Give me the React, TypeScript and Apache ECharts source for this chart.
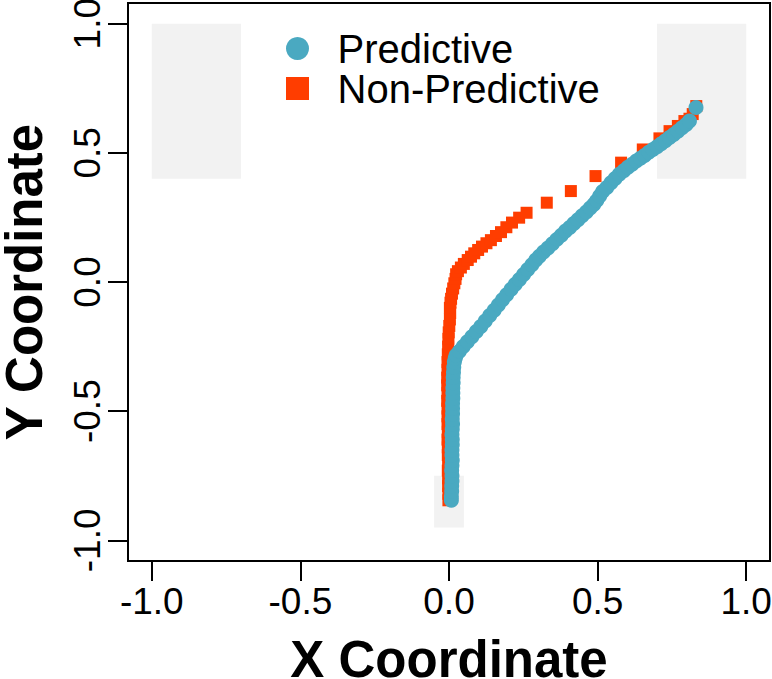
import React, { useEffect, useRef } from "react";
import * as echarts from "echarts";

const xTicks = [-1, -0.5, 0, 0.5, 1];
const yTicks = [-1, -0.5, 0, 0.5, 1];
const seriesNames = ["Predictive", "Non-Predictive"];

// Predictive (teal circles) from bottom to top
const predictive: [number, number][] = [
  [0.008, -0.845], [0.008, -0.83], [0.009, -0.81], [0.009, -0.79], [0.01, -0.77],
  [0.01, -0.75], [0.009, -0.73], [0.01, -0.71], [0.011, -0.69], [0.01, -0.67],
  [0.01, -0.65], [0.011, -0.63], [0.011, -0.61], [0.01, -0.59], [0.011, -0.57],
  [0.012, -0.55], [0.011, -0.53], [0.012, -0.51], [0.012, -0.49], [0.012, -0.47],
  [0.013, -0.45], [0.013, -0.43], [0.013, -0.41], [0.014, -0.39], [0.014, -0.37],
  [0.015, -0.35], [0.016, -0.33], [0.018, -0.31], [0.021, -0.295],
  [0.024, -0.284], [0.035, -0.268], [0.048, -0.25], [0.062, -0.231], [0.077, -0.212],
  [0.092, -0.192], [0.107, -0.172], [0.122, -0.151], [0.137, -0.13], [0.152, -0.109],
  [0.166, -0.089], [0.18, -0.069], [0.194, -0.049], [0.209, -0.028], [0.223, -0.009],
  [0.237, 0.01], [0.251, 0.029], [0.265, 0.048], [0.279, 0.067], [0.292, 0.085],
  [0.304, 0.1], [0.318, 0.116], [0.333, 0.132], [0.348, 0.148], [0.363, 0.165],
  [0.378, 0.181], [0.392, 0.197], [0.406, 0.211], [0.42, 0.226], [0.434, 0.241],
  [0.448, 0.256], [0.462, 0.271], [0.475, 0.286], [0.487, 0.3], [0.497, 0.315],
  [0.507, 0.333], [0.517, 0.35], [0.531, 0.366], [0.545, 0.384], [0.559, 0.401],
  [0.573, 0.417], [0.588, 0.431], [0.602, 0.444], [0.616, 0.456], [0.63, 0.468],
  [0.644, 0.479], [0.658, 0.49], [0.672, 0.502], [0.686, 0.513], [0.7, 0.524],
  [0.714, 0.535], [0.728, 0.547], [0.742, 0.559], [0.756, 0.571], [0.77, 0.584],
  [0.784, 0.597], [0.798, 0.61], [0.809, 0.623], [0.831, 0.675],
];

// Non-Predictive (red squares)
const nonPredictive: [number, number][] = [
  [-0.002, -0.845], [-0.002, -0.82], [-0.003, -0.79], [-0.003, -0.76], [-0.004, -0.73],
  [-0.003, -0.7], [-0.004, -0.67], [-0.004, -0.64], [-0.005, -0.61], [-0.004, -0.58],
  [-0.005, -0.55], [-0.005, -0.52], [-0.005, -0.49], [-0.006, -0.46], [-0.005, -0.43],
  [-0.006, -0.4], [-0.006, -0.37], [-0.005, -0.34], [-0.005, -0.31], [-0.004, -0.28],
  [-0.003, -0.25], [-0.002, -0.22], [-0.001, -0.195], [0.001, -0.17], [0.003, -0.145],
  [0.004, -0.12], [0.003, -0.1], [0.005, -0.08], [0.007, -0.065], [0.01, -0.045],
  [0.014, -0.025], [0.018, -0.005], [0.022, 0.012], [0.024, 0.03], [0.03, 0.042],
  [0.04, 0.056], [0.05, 0.07], [0.063, 0.085], [0.074, 0.098], [0.085, 0.111],
  [0.098, 0.124], [0.111, 0.137], [0.126, 0.15], [0.141, 0.162], [0.158, 0.178],
  [0.175, 0.193], [0.193, 0.212], [0.212, 0.23], [0.236, 0.249], [0.261, 0.268],
  [0.329, 0.307], [0.41, 0.352], [0.493, 0.41], [0.579, 0.462], [0.652, 0.513],
  [0.708, 0.556], [0.742, 0.584], [0.77, 0.604], [0.792, 0.623], [0.809, 0.632],
  [0.82, 0.65], [0.832, 0.681],
];

// Shaded gray regions: [xMin, yMin, xMax, yMax]
const shadedRegions: [number, number, number, number][] = [
  [-1.0, 0.4, -0.7, 1.0],
  [0.7, 0.4, 1.0, 1.0],
  [-0.05, -0.95, 0.05, -0.75],
];

const TEAL = "#4AA9C1";
const RED = "#FF3D00";
const SANS = "'Liberation Sans', Arial, sans-serif";

export default function App() {
  const ref = useRef<HTMLDivElement>(null);
  useEffect(() => {
    if (!ref.current) return;
    const chart = echarts.init(ref.current, undefined, { renderer: "svg" });
    const axisCommon = {
      type: "value" as const,
      min: -1.08,
      max: 1.08,
      nameLocation: "middle" as const,
      nameTextStyle: { fontSize: 51, fontWeight: "bold" as const, color: "#000", fontFamily: SANS, lineHeight: 36 },
      axisLine: { show: true, onZero: false, lineStyle: { color: "#000", width: 2 } },
      splitLine: { show: false },
    };
    const labelCommon = {
      formatter: (v: number) => v.toFixed(1),
      fontSize: 37,
      lineHeight: 37,
      color: "#000",
      fontFamily: SANS,
      margin: 22,
    };
    chart.setOption({
      animation: false,
      backgroundColor: "#fff",
      grid: {
        left: 128, right: 2, top: 3, bottom: 118,
        show: true, borderColor: "#000", borderWidth: 2,
        containLabel: false, outerBoundsMode: "none",
      },
      legend: {
        orient: "vertical",
        left: 281,
        top: 23.5,
        itemWidth: 70,
        itemHeight: 23,
        itemGap: 0,
        selectedMode: false,
        symbolKeepAspect: true,
        textStyle: { fontSize: 40, lineHeight: 39, color: "#000", fontFamily: SANS },
        data: [
          { name: seriesNames[0], icon: "circle" },
          { name: seriesNames[1], icon: "path://M0 0H10V10H0Z" },
        ],
      },
      xAxis: {
        ...axisCommon,
        name: "X Coordinate",
        nameGap: 80,
        axisTick: { show: true, length: 20, customValues: xTicks, lineStyle: { color: "#000", width: 2 } },
        axisLabel: { ...labelCommon, customValues: xTicks },
      },
      yAxis: {
        ...axisCommon,
        name: "Y Coordinate",
        nameGap: 86,
        axisTick: { show: true, length: 20, customValues: yTicks, lineStyle: { color: "#000", width: 2 } },
        axisLabel: { ...labelCommon, customValues: yTicks, rotate: 90 },
      },
      series: [
        {
          name: seriesNames[1],
          type: "scatter",
          symbol: "rect",
          symbolSize: 12,
          itemStyle: { color: RED, opacity: 1 },
          data: nonPredictive,
          markArea: {
            silent: true,
            itemStyle: { color: "#F2F2F2", opacity: 1 },
            data: shadedRegions.map(([x0, y0, x1, y1]) => [{ coord: [x0, y0] }, { coord: [x1, y1] }]),
          },
        },
        {
          name: seriesNames[0],
          type: "scatter",
          symbol: "circle",
          symbolSize: 15,
          itemStyle: { color: TEAL, opacity: 1 },
          data: predictive,
        },
      ],
    });
    return () => chart.dispose();
  }, []);
  return <div ref={ref} style={{ position: "absolute", left: 0, top: 0, width: 772, height: 679 }} />;
}
